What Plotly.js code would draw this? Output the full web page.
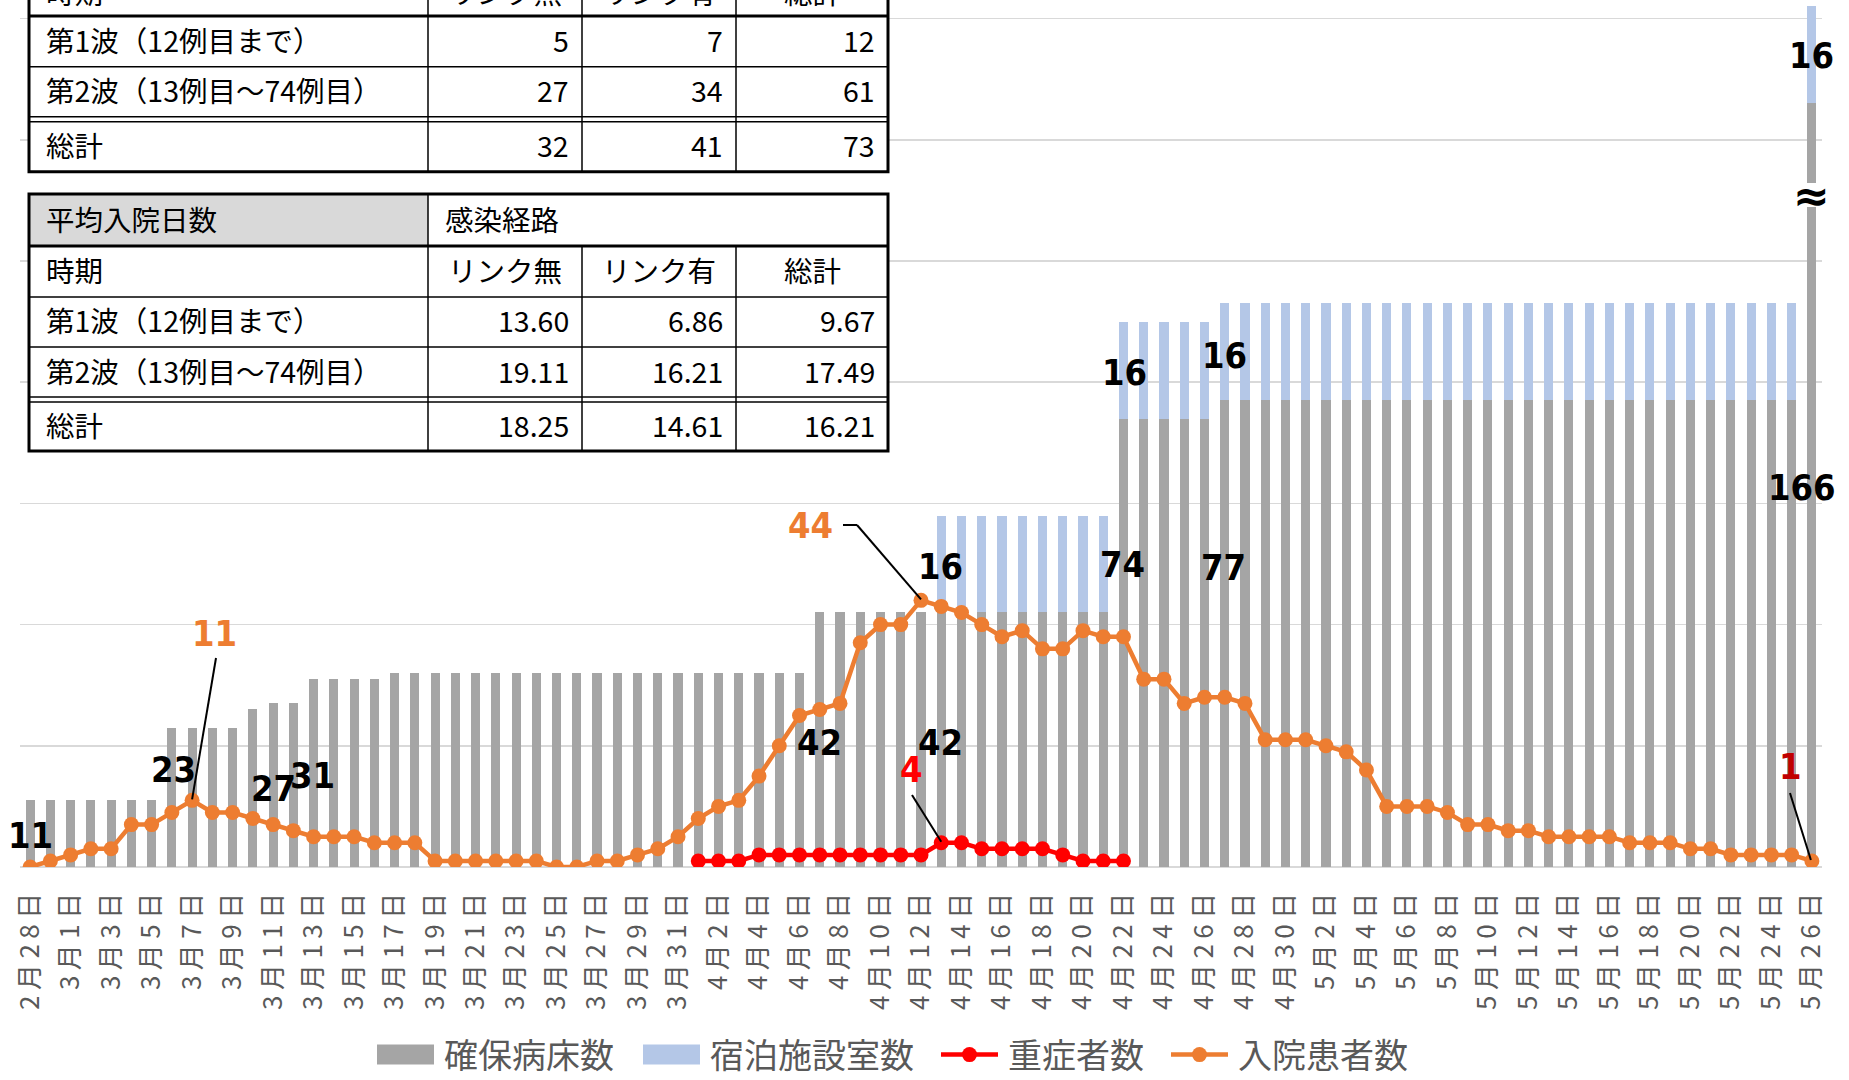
<!DOCTYPE html>
<html><head><meta charset="utf-8">
<script src="https://cdn.plot.ly/plotly-3.0.1.min.js"></script>
<style>
html,body{margin:0;padding:0;background:#fff;}
#chart{width:1849px;height:1080px;}
.xtick text{letter-spacing:5.5px;}
</style></head><body><div id="chart"></div>
<script>
// ---------------- data ----------------
const dates = ['2月28日','2月29日',
'3月1日','3月2日','3月3日','3月4日','3月5日','3月6日','3月7日','3月8日','3月9日','3月10日',
'3月11日','3月12日','3月13日','3月14日','3月15日','3月16日','3月17日','3月18日','3月19日','3月20日',
'3月21日','3月22日','3月23日','3月24日','3月25日','3月26日','3月27日','3月28日','3月29日','3月30日','3月31日',
'4月1日','4月2日','4月3日','4月4日','4月5日','4月6日','4月7日','4月8日','4月9日','4月10日',
'4月11日','4月12日','4月13日','4月14日','4月15日','4月16日','4月17日','4月18日','4月19日','4月20日',
'4月21日','4月22日','4月23日','4月24日','4月25日','4月26日','4月27日','4月28日','4月29日','4月30日',
'5月1日','5月2日','5月3日','5月4日','5月5日','5月6日','5月7日','5月8日','5月9日','5月10日',
'5月11日','5月12日','5月13日','5月14日','5月15日','5月16日','5月17日','5月18日','5月19日','5月20日',
'5月21日','5月22日','5月23日','5月24日','5月25日','5月26日'];

// 確保病床数
const beds = [11,11,11,11,11,11,11, 23,23,23,23, 26, 27,27, 31,31,31,31,
32,32,32,32,32,32,32,32,32,32,32,32,32,32,32,32,32,32,32,32,32,
42,42,42,42,42,42,42,42,42,42,42,42,42,42,42,
74,74,74,74,74,
77,77,77,77,77,77,77,77,77,77,77,77,77,77,77,77,77,77,77,77,77,77,77,77,77,77,77,77,77,
166];
// 宿泊施設室数
const lodging = [0,0,0,0,0,0,0,0,0,0, 0,0,0,0,0,0,0,0,0,0, 0,0,0,0,0,0,0,0,0,0,
0,0,0,0,0,0,0,0,0,0, 0,0,0,0,0,
16,16,16,16,16,16,16,16,16,16,16,16,16,16,16,16,16,16,16,16,16,16,
16,16,16,16,16,16,16,16,16,16,16,16,16,16,16,16,16,16,16,16,16,16];
// 重症者数
const severe = [null,null,null,null,null,null,null,null,null,null,
null,null,null,null,null,null,null,null,null,null,
null,null,null,null,null,null,null,null,null,null,null,null,null,
1,1,1,2,2,2,2,2,2,2,2,2,4,4,3,3,3,3,2,1,1,1,
null,null,null,null,null,null,null,null,null,null,null,null,null,null,null,null,null,
null,null,null,null,null,null,null,null,null,null,null,null,null,null,null,null,null];
// 入院患者数
const inpatients = [0,1,2,3,3,7,7,9,11,9,
9,8,7,6,5,5,5,4,4,4,
1,1,1,1,1,1,0,0,1,1,
2,3,5,8,10,11,15,20,25,26,
27,37,40,40,44,43,42,40,38,39,
36,36,39,38,38,31,31,27,28,28,
27,21,21,21,20,19,16,10,10,10,
9,7,7,6,6,5,5,5,5,4,
4,4,3,3,2,2,2,2,1];

// broken-axis bar (5月26日): drawn height of the 確保病床数 segment
const brokenBedDrawn = 126;

// tables
const waveLabels = ['第1波（12例目まで）','第2波（13例目〜74例目）','総計'];
const tableHeader = ['時期','リンク無','リンク有','総計'];
const casesNoLink = [5,27,32];
const casesLink = [7,34,41];
const casesTotal = [12,61,73];
const daysTitle = ['平均入院日数','感染経路'];
const daysNoLink = [13.60,19.11,18.25];
const daysLink = [6.86,16.21,14.61];
const daysTotal = [9.67,17.49,16.21];

const legendNames = ['確保病床数','宿泊施設室数','重症者数','入院患者数'];

// ---------------- geometry ----------------
const W = 1849, H = 1080;
const PL = 20, PW = 1802, PT = 0, PH = 867;
const YMAX = 143.07;
const N = dates.length;
const step = PW / N;
const X = px => (px - PL) / PW;
const Y = py => (PT + PH - py) / PH;
const dX = i => PL + (i + 0.5) * step;
const dY = v => PT + PH - v * PH / YMAX;

const JP = 'Noto Sans CJK JP, Noto Sans, sans-serif';
const NUM = 'Liberation Sans Narrow, DejaVu Sans Condensed, Arial Narrow, sans-serif';

const last = N - 1;
const bedsDrawn = beds.map((v, i) => i === last ? brokenBedDrawn : v);

const traces = [
  {type:'bar', name:legendNames[0], x:dates, y:bedsDrawn, marker:{color:'#a5a5a5'}, hoverinfo:'skip'},
  {type:'bar', name:legendNames[1], x:dates, y:lodging, marker:{color:'#b4c7e7'}, hoverinfo:'skip'},
  {type:'scatter', mode:'lines+markers', name:legendNames[2], x:dates, y:severe,
   line:{color:'#ff0000', width:4.5}, marker:{color:'#ff0000', size:15}, connectgaps:false},
  {type:'scatter', mode:'lines+markers', name:legendNames[3], x:dates, y:inpatients,
   line:{color:'#ed7d31', width:4.5}, marker:{color:'#ed7d31', size:15}}
];

const shapes = [];
const annotations = [];

function hline(py, x0, x1, w){ shapes.push({type:'line', xref:'paper', yref:'paper', layer:'above',
  x0:X(x0), x1:X(x1), y0:Y(py), y1:Y(py), line:{color:'#000', width:w}}); }
function vline(px, y0, y1, w){ shapes.push({type:'line', xref:'paper', yref:'paper', layer:'above',
  x0:X(px), x1:X(px), y0:Y(y0), y1:Y(y1), line:{color:'#000', width:w}}); }
function rect(x0, y0, x1, y1, fill, lw){ shapes.push({type:'rect', xref:'paper', yref:'paper', layer:'above',
  x0:X(x0), x1:X(x1), y0:Y(y0), y1:Y(y1), fillcolor:fill, line:{color:'#000', width:lw}}); }
function seg(x0, y0, x1, y1, color, w){ shapes.push({type:'line', xref:'paper', yref:'paper', layer:'above',
  x0:X(x0), x1:X(x1), y0:Y(y0), y1:Y(y1), line:{color:color||'#000', width:w||2}}); }
const TFONT = {family:JP, size:28.5, color:'#000'};
function txt(px, py, text, anchor, font){ annotations.push({xref:'paper', yref:'paper', x:X(px), y:Y(py),
  text:String(text), showarrow:false, xanchor:anchor||'center', yanchor:'middle', borderpad:0,
  font:font||TFONT}); }

// ---- tables ----
const cols = [29, 428, 582, 736, 888];
const padL = 16, padR = 12;
function cellText(c, py, text, align){
  if (align === 'left') txt(cols[c] + padL, py, text, 'left');
  else if (align === 'right') txt(cols[c+1] - padR, py, text, 'right');
  else txt((cols[c] + cols[c+1]) / 2, py, text, 'center');
}
// Table 1 (cases) - header row partly above the picture
(function(){
  const top = -36, hb = 16, r1 = 66.7, r2 = 116.7, d2 = 121.7, bot = 171.7;
  rect(cols[0], top, cols[4], bot, '#ffffff', 0);
  [1,2,3].forEach(c => vline(cols[c], top, bot, 1.5));
  hline(hb, cols[0], cols[4], 3);
  hline(r1, cols[0], cols[4], 1.5);
  hline(r2, cols[0], cols[4], 1.5);
  hline(d2, cols[0], cols[4], 1.5);
  rect(cols[0], top, cols[4], bot, 'rgba(0,0,0,0)', 3);
  const hy = -9;
  cellText(0, hy, tableHeader[0], 'left');
  for (let c = 1; c < 4; c++) cellText(c, hy, tableHeader[c], 'center');
  const ys = [(hb + r1) / 2, (r1 + r2) / 2, (d2 + bot) / 2].map(v => v - 2);
  ys.forEach((py, r) => {
    cellText(0, py, waveLabels[r], 'left');
    cellText(1, py, casesNoLink[r], 'right');
    cellText(2, py, casesLink[r], 'right');
    cellText(3, py, casesTotal[r], 'right');
  });
})();
// Table 2 (average days)
(function(){
  const top = 194, hb = 246, r0 = 297, r1 = 347, r2 = 397, d2 = 402, bot = 451;
  rect(cols[0], top, cols[4], bot, '#ffffff', 0);
  rect(cols[0], top, cols[1], hb, '#d9d9d9', 0);
  vline(cols[1], top, bot, 1.5);
  vline(cols[2], hb, bot, 1.5);
  vline(cols[3], hb, bot, 1.5);
  hline(hb, cols[0], cols[4], 3);
  hline(r0, cols[0], cols[4], 1.5);
  hline(r1, cols[0], cols[4], 1.5);
  hline(r2, cols[0], cols[4], 1.5);
  hline(d2, cols[0], cols[4], 1.5);
  rect(cols[0], top, cols[4], bot, 'rgba(0,0,0,0)', 3);
  const ty = (top + hb) / 2 - 2;
  cellText(0, ty, daysTitle[0], 'left');
  cellText(1, ty, daysTitle[1], 'left');
  const hy = (hb + r0) / 2 - 2;
  cellText(0, hy, tableHeader[0], 'left');
  for (let c = 1; c < 4; c++) cellText(c, hy, tableHeader[c], 'center');
  const ys = [(r0 + r1) / 2, (r1 + r2) / 2, (d2 + bot) / 2].map(v => v - 2);
  ys.forEach((py, r) => {
    cellText(0, py, waveLabels[r], 'left');
    cellText(1, py, daysNoLink[r].toFixed(2), 'right');
    cellText(2, py, daysLink[r].toFixed(2), 'right');
    cellText(3, py, daysTotal[r].toFixed(2), 'right');
  });
})();

// ---- data labels ----
const LBL = (color) => ({family:NUM, size:36, color:color, weight:'bold'});
const blk = LBL('#000000');
txt(30.5, 835, beds[0], 'center', blk);
txt(173, 769, beds[7], 'center', blk);
txt(273, 788, beds[12], 'center', blk);
txt(312.5, 775, beds[14], 'center', blk);
txt(819, 742, beds[39], 'center', blk);
txt(940, 742, beds[45], 'center', blk);
txt(940, 566, lodging[45], 'center', blk);
txt(1122.6, 565, beds[54], 'center', blk);
txt(1223, 567, beds[59], 'center', blk);
txt(1124, 373, lodging[54], 'center', blk);
txt(1224, 355, lodging[59], 'center', blk);
txt(1802, 487, beds[last], 'center', blk);
txt(1811, 56, lodging[last], 'center', blk);
// broken axis mark on the 5月26日 bar
shapes.push({type:'rect', xref:'paper', yref:'paper', layer:'above',
  x0:X(dX(last) - 7), x1:X(dX(last) + 7), y0:Y(207), y1:Y(183), fillcolor:'#ffffff', line:{width:0}});
annotations.push({xref:'paper', yref:'paper', x:X(dX(last)), y:Y(195), text:'≈', showarrow:false,
  xanchor:'center', yanchor:'middle', borderpad:0,
  font:{family:'DejaVu Sans, sans-serif', size:44, color:'#000', weight:'bold'}});

// callouts
const iPeak1 = 8, iPeak2 = inpatients.indexOf(Math.max(...inpatients)), iSev = severe.indexOf(4);
txt(214.6, 633, inpatients[iPeak1], 'center', LBL('#ed7d31'));
seg(216, 658, dX(iPeak1), dY(inpatients[iPeak1]) - 1, '#000', 2);
txt(810, 525, inpatients[iPeak2], 'center', LBL('#ed7d31'));
seg(843, 525, 857, 525, '#000', 2);
seg(857, 525, dX(iPeak2), dY(inpatients[iPeak2]) - 1, '#000', 2);
txt(911.5, 769, severe[iSev], 'center', LBL('#ff0000'));
seg(912, 795, dX(iSev), dY(severe[iSev]) - 1, '#000', 2);
txt(1790, 766.5, inpatients[last], 'center', LBL('#c00000'));
seg(1790, 793, dX(last) - 1, dY(inpatients[last]) - 1, '#000', 2);

// legend item layout (symbol start x in px)
const legendSymbolStart = [377, 643, 941, 1171];
const legendSymbolW = 57, legendGap = 10;

const layout = {
  width: W, height: H,
  margin: {l: PL, r: W - PL - PW, t: PT, b: H - PT - PH, autoexpand: false},
  paper_bgcolor: '#ffffff', plot_bgcolor: '#ffffff',
  font: {family: JP, color: '#595959'},
  barmode: 'stack', bargap: 0.55,
  showlegend: true,
  legend: {orientation: 'h', x: X(367), xanchor: 'left', y: Y(1055), yanchor: 'middle',
    itemwidth: legendSymbolW + legendGap,
    font: {family: JP, size: 34, color: '#595959'}, bgcolor: 'rgba(0,0,0,0)', traceorder: 'normal'},
  xaxis: {type: 'category', categoryorder: 'array', categoryarray: dates,
    range: [-0.5, N - 0.5], showgrid: false, zeroline: false, showline: false,
    tickmode: 'array', tickvals: dates.filter((d, i) => i % 2 === 0),
    tickangle: -90, ticks: '', ticklabelstandoff: 14, automargin: false,
    tickfont: {family: JP, size: 26, color: '#595959'}},
  yaxis: {range: [0, YMAX], dtick: 20, tick0: 0, showgrid: true, gridcolor: '#d9d9d9', gridwidth: 1.5,
    zeroline: true, zerolinecolor: '#d9d9d9', zerolinewidth: 1.5,
    showticklabels: false, ticks: '', showline: false, automargin: false, fixedrange: true},
  shapes: shapes,
  annotations: annotations
};

function parseT(s){ const m = /translate\(\s*([-\d.e]+)[ ,]+([-\d.e]+)/.exec(s || ''); return m ? {x:+m[1], y:+m[2]} : null; }

Plotly.newPlot('chart', traces, layout, {staticPlot: true, displayModeBar: false}).then(gd => {
  const leg = gd.querySelector('.legend');
  if (!leg) return;
  leg.querySelectorAll('[clip-path]').forEach(e => e.removeAttribute('clip-path'));
  const svg = gd.querySelector('.main-svg');
  const svgX = svg.getBoundingClientRect().left;
  const items = Array.from(leg.querySelectorAll('g.traces'));
  const half = legendSymbolW / 2;
  items.forEach((g, k) => {
    const pts = g.querySelector('.legendpoints');
    const lines = g.querySelector('.legendlines');
    let ref = pts;
    if (k < 2) {
      if (pts) pts.querySelectorAll('path').forEach(p => p.setAttribute('d', `M${-half},10H${half}V-10H${-half}Z`));
    } else if (lines) {
      const mk = pts ? pts.querySelector('path') : null;
      const t = mk ? parseT(mk.getAttribute('transform')) : null;
      const c = t ? t.x : (legendSymbolW + legendGap + 10) / 2;
      lines.querySelectorAll('path').forEach(p => { p.removeAttribute('transform'); p.setAttribute('d', `M${c - half},0h${legendSymbolW}`); });
      ref = lines;
    }
    const gt = parseT(g.getAttribute('transform')) || {x:0, y:0};
    if (ref) {
      const sym = ref.getBoundingClientRect().left - svgX;
      const dx = legendSymbolStart[k] - sym;
      g.setAttribute('transform', `translate(${gt.x + dx},${gt.y})`);
    }
  });
});
</script></body></html>
